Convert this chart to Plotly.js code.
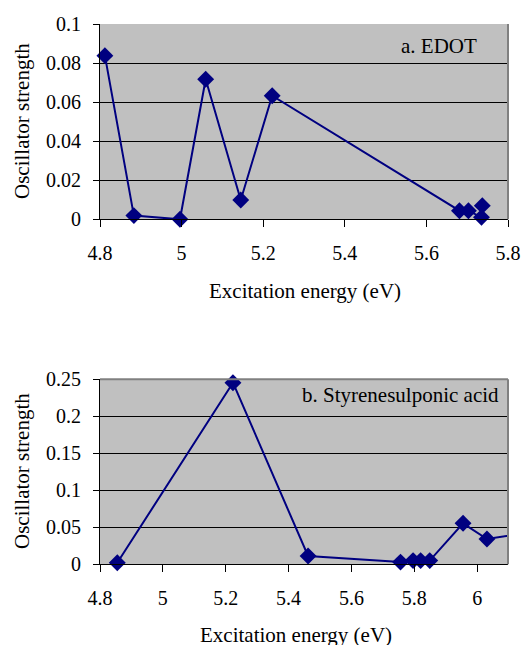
<!DOCTYPE html>
<html>
<head>
<meta charset="utf-8">
<script src="https://cdn.plot.ly/plotly-3.0.1.min.js"></script>
<style>
html,body{margin:0;padding:0;background:#fff;}
#chart{width:522px;height:645px;}
#chart svg text{font-family:'Liberation Serif','Times New Roman',serif !important;}
</style>
</head>
<body>
<div id="chart"></div>
<script>
// Panel a: EDOT
const edotEnergy = [4.812, 4.883, 4.996, 5.059, 5.145, 5.222, 5.681, 5.703, 5.735, 5.737];
const edotStrength = [0.0838, 0.0019, 0.0000, 0.0717, 0.0099, 0.0633, 0.0044, 0.0044, 0.0010, 0.0070];
// Panel b: Styrenesulponic acid
const ssaEnergy = [4.855, 5.223, 5.462, 5.756, 5.796, 5.820, 5.849, 5.955, 6.031, 6.125];
const ssaStrength = [0.002, 0.2454, 0.0112, 0.003, 0.005, 0.005, 0.005, 0.0554, 0.0342, 0.0405];

const xTicksA = [4.8, 5, 5.2, 5.4, 5.6, 5.8];
const yTicksA = [0, 0.02, 0.04, 0.06, 0.08, 0.1];
const xTicksB = [4.8, 5, 5.2, 5.4, 5.6, 5.8, 6];
const yTicksB = [0, 0.05, 0.1, 0.15, 0.2, 0.25];

const W = 522, H = 645;
const px = v => v / W;
const py = v => 1 - v / H;
const FAM = "Liberation Serif";
const navy = "#000080";
const xRangeA = [4.8, 5.8];
const xRangeB = [4.8, 6.098];

function lineTrace(x, y, xa, ya) {
  return {x: x, y: y, xaxis: xa, yaxis: ya, mode: "lines",
    line: {color: navy, width: 2}, cliponaxis: true, showlegend: false, hoverinfo: "skip"};
}
function markerTrace(x, y, xa, ya, range) {
  const xs = [], ys = [];
  x.forEach((v, i) => { if (v >= range[0] && v <= range[1]) { xs.push(v); ys.push(y[i]); } });
  return {x: xs, y: ys, xaxis: xa, yaxis: ya, mode: "markers",
    marker: {symbol: "diamond", size: 13, color: navy}, cliponaxis: false, showlegend: false, hoverinfo: "x+y"};
}

const data = [
  lineTrace(edotEnergy, edotStrength, "x", "y"),
  markerTrace(edotEnergy, edotStrength, "x", "y", xRangeA),
  lineTrace(ssaEnergy, ssaStrength, "x2", "y2"),
  markerTrace(ssaEnergy, ssaStrength, "x2", "y2", xRangeB)
];

function xAxis(domain, range, ticks, anchor) {
  return {
    domain: domain, range: range, anchor: anchor,
    tickvals: ticks, ticktext: ticks.map(String),
    showgrid: false, zeroline: false,
    showline: true, linecolor: "#000", linewidth: 1,
    ticks: "outside", ticklen: 7, tickcolor: "#000", tickwidth: 1,
    ticklabelstandoff: 9,
    tickfont: {family: FAM, size: 20, color: "#000"},
    fixedrange: true
  };
}
function yAxis(domain, range, ticks, anchor) {
  return {
    domain: domain, range: range, anchor: anchor,
    tickvals: ticks, ticktext: ticks.map(String),
    showgrid: true, gridcolor: "#000", gridwidth: 1,
    zeroline: false,
    showline: true, linecolor: "#000", linewidth: 1,
    ticks: "outside", ticklen: 6, tickcolor: "#000", tickwidth: 1,
    ticklabelstandoff: 8,
    tickfont: {family: FAM, size: 20, color: "#000"},
    fixedrange: true
  };
}

const xDom = [px(100), px(508)];
const yDomA = [py(219.3), py(24)];
const yDomB = [py(564.3), py(379.3)];

function ann(text, x, y, extra) {
  return Object.assign({text: text, xref: "paper", yref: "paper", x: x, y: y,
    xanchor: "center", yanchor: "middle", showarrow: false,
    font: {family: FAM, size: 21, color: "#000"}}, extra || {});
}

const layout = {
  width: W, height: H,
  margin: {l: 0, r: 0, t: 0, b: 0},
  paper_bgcolor: "#fff",
  plot_bgcolor: "#c0c0c0",
  font: {family: FAM, color: "#000"},
  xaxis: xAxis(xDom, xRangeA, xTicksA, "y"),
  yaxis: yAxis(yDomA, [0, 0.1], yTicksA, "x"),
  xaxis2: xAxis(xDom, xRangeB, xTicksB, "y2"),
  yaxis2: yAxis(yDomB, [0, 0.25], yTicksB, "x2"),
  shapes: [
    {type: "line", xref: "paper", yref: "paper", x0: xDom[1], x1: xDom[1], y0: yDomA[0], y1: yDomA[1], line: {color: "#808080", width: 2}},
    {type: "line", xref: "paper", yref: "paper", x0: xDom[1], x1: xDom[1], y0: yDomB[0], y1: yDomB[1], line: {color: "#808080", width: 2}},
    {type: "line", xref: "paper", yref: "paper", x0: xDom[0], x1: xDom[1], y0: yDomB[1], y1: yDomB[1], line: {color: "#808080", width: 2}}
  ],
  annotations: [
    ann("a. EDOT", px(479), py(45.7), {xanchor: "right"}),
    ann("b. Styrenesulponic acid", px(501), py(395), {xanchor: "right"}),
    ann("Excitation energy (eV)", px(304.5), py(291)),
    ann("Excitation energy (eV)", px(295.5), py(635)),
    ann("Oscillator strength", px(22), py(121), {textangle: -90}),
    ann("Oscillator strength", px(22), py(471), {textangle: -90})
  ]
};

Plotly.newPlot("chart", data, layout, {displayModeBar: false});
</script>
</body>
</html>
